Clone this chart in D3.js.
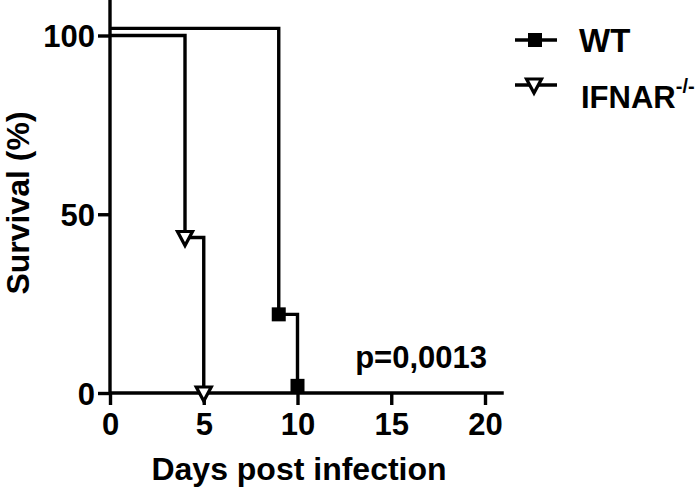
<!DOCTYPE html>
<html><head><meta charset="utf-8">
<script src="https://cdn.jsdelivr.net/npm/d3@7/dist/d3.min.js"></script>
<style>body{margin:0;background:#fff}svg{display:block}text{font-family:"Liberation Sans",Arial,sans-serif;font-weight:bold;fill:#000}</style>
</head><body>
<svg id="c" width="700" height="489"></svg>
<script>
// Data
const wtDays = [0, 9, 10];
const wtSurvival = [102, 22, 2];
const ifnarDays = [0, 4, 5];
const ifnarSurvival = [100, 43.5, 0];
const xTicks = [0, 5, 10, 15, 20];
const yTicks = [0, 50, 100];
const seriesNames = ["WT", "IFNAR"];
const pValue = "p=0,0013";

const svg = d3.select("#c");
const x = d3.scaleLinear().domain([0, 20]).range([110, 485]);
const y = d3.scaleLinear().domain([0, 100]).range([393, 35.5]);
const xMax = 21, yMax = 110;
const SW = 3.4;

function stepPath(days, vals) {
  const pts = [];
  for (let i = 0; i < days.length; i++) {
    if (i > 0) pts.push([x(days[i]), y(vals[i - 1])]);
    pts.push([x(days[i]), y(vals[i])]);
  }
  return d3.line()(pts);
}

// axes
const xAxis = d3.axisBottom(x).tickValues(xTicks).tickSize(12).tickPadding(6);
const yAxis = d3.axisLeft(y).tickValues(yTicks).tickSize(12).tickPadding(4);
const gx = svg.append("g").attr("transform", `translate(0,${y(0)})`).call(xAxis);
const gy = svg.append("g").attr("transform", `translate(${x(0)},0)`).call(yAxis);
[gx, gy].forEach(g => {
  g.select(".domain").remove();
  g.selectAll(".tick line").attr("stroke", "#000").attr("stroke-width", SW);
  g.selectAll(".tick text").style("font-size", "31px").style("font-family", '"Liberation Sans",Arial,sans-serif').style("font-weight", "bold").attr("fill", "#000");
});
gy.selectAll(".tick text").attr("dy", "0.36em").attr("x", -15);
gx.selectAll(".tick text").attr("y", 20);
svg.append("line").attr("x1", x(0)).attr("x2", x(xMax)).attr("y1", y(0)).attr("y2", y(0)).attr("stroke", "#000").attr("stroke-width", SW);
svg.append("line").attr("x1", x(0)).attr("x2", x(0)).attr("y1", y(0) + 1.5).attr("y2", y(yMax)).attr("stroke", "#000").attr("stroke-width", SW);

// lines
svg.append("path").attr("d", stepPath(ifnarDays, ifnarSurvival)).attr("fill", "none").attr("stroke", "#000").attr("stroke-width", SW);
svg.append("path").attr("d", stepPath(wtDays, wtSurvival)).attr("fill", "none").attr("stroke", "#000").attr("stroke-width", SW);

// markers
const sq = 14;
function square(g, cx, cy) {
  g.append("rect").attr("x", cx - sq / 2).attr("y", cy - sq / 2).attr("width", sq).attr("height", sq).attr("fill", "#000");
}
function tri(g, cx, cy) {
  g.append("path").attr("d", `M${cx - 7.5},${cy - 6}L${cx + 7.5},${cy - 6}L${cx},${cy + 8}Z`)
    .attr("fill", "#fff").attr("stroke", "#000").attr("stroke-width", 3.2).attr("stroke-linejoin", "miter");
}
for (let i = 1; i < wtDays.length; i++) square(svg, x(wtDays[i]), y(wtSurvival[i]));
for (let i = 1; i < ifnarDays.length; i++) tri(svg, x(ifnarDays[i]), y(ifnarSurvival[i]));

// axis titles
svg.append("text").attr("x", 299).attr("y", 480).attr("text-anchor", "middle").style("font-size", "32px").text("Days post infection");
svg.append("text").attr("transform", "translate(29,203) rotate(-90)").attr("text-anchor", "middle").style("font-size", "32px").text("Survival (%)");

// p value
svg.append("text").attr("x", 487).attr("y", 368).attr("text-anchor", "end").style("font-size", "31px").text(pValue);

// legend
const lg = svg.append("g");
lg.append("line").attr("x1", 515).attr("x2", 557).attr("y1", 40).attr("y2", 40).attr("stroke", "#000").attr("stroke-width", SW);
square(lg, 535, 40);
lg.append("text").attr("x", 579).attr("y", 52).style("font-size", "33px").text(seriesNames[0]);
lg.append("line").attr("x1", 515).attr("x2", 557).attr("y1", 85).attr("y2", 85).attr("stroke", "#000").attr("stroke-width", SW);
tri(lg, 534, 85);
const t2 = lg.append("text").attr("x", 581).attr("y", 108).style("font-size", "31px");
t2.append("tspan").text(seriesNames[1]);
t2.append("tspan").attr("dy", -15).style("font-size", "20px").text("-/-");
</script>
</body></html>
